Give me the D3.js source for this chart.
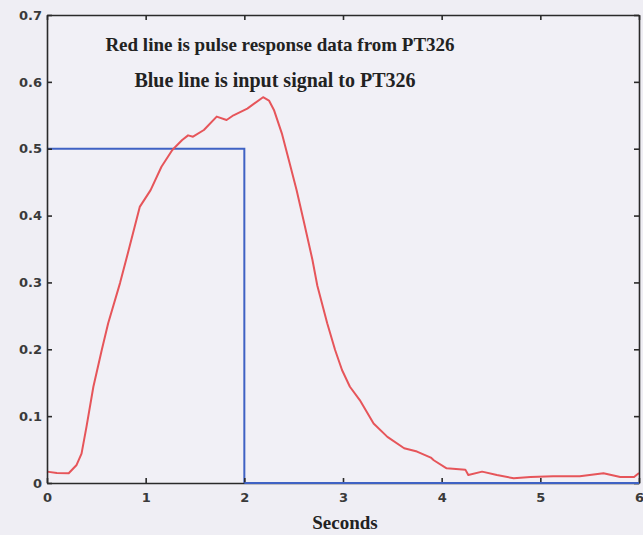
<!DOCTYPE html>
<html>
<head>
<meta charset="utf-8">
<script src="https://cdn.jsdelivr.net/npm/d3@7"></script>
<style>
  html, body { margin: 0; padding: 0; background: #efeef4; }
  svg { display: block; }
</style>
</head>
<body>
<svg id="chart" width="643" height="535"></svg>
<script>
// ---- data ----
const redT = [0, 0.1, 0.22, 0.30, 0.35, 0.40, 0.47, 0.555, 0.62, 0.74, 0.82, 0.94, 1.05, 1.16, 1.27, 1.37, 1.43, 1.48, 1.59, 1.72, 1.82, 1.89, 2.03, 2.19, 2.25, 2.30, 2.38, 2.46, 2.53, 2.60, 2.69, 2.74, 2.84, 2.92, 2.99, 3.07, 3.17, 3.31, 3.45, 3.62, 3.75, 3.89, 3.92, 4.05, 4.24, 4.27, 4.41, 4.56, 4.73, 4.90, 5.13, 5.40, 5.64, 5.81, 5.95, 6.0];
const redV = [0.017, 0.015, 0.0145, 0.027, 0.044, 0.084, 0.144, 0.199, 0.239, 0.299, 0.344, 0.413, 0.438, 0.473, 0.498, 0.513, 0.520, 0.518, 0.528, 0.548, 0.543, 0.550, 0.560, 0.577, 0.572, 0.558, 0.523, 0.478, 0.438, 0.393, 0.334, 0.295, 0.239, 0.199, 0.169, 0.144, 0.124, 0.089, 0.069, 0.052, 0.047, 0.038, 0.034, 0.022, 0.020, 0.012, 0.017, 0.012, 0.007, 0.009, 0.010, 0.010, 0.0145, 0.009, 0.009, 0.015];
const blueT = [0, 2, 2, 6];
const blueV = [0.5, 0.5, 0, 0];
const xTicks = [0, 1, 2, 3, 4, 5, 6];
const yTicks = [0, 0.1, 0.2, 0.3, 0.4, 0.5, 0.6, 0.7];
const yTickLabels = ["0", "0.1", "0.2", "0.3", "0.4", "0.5", "0.6", "0.7"];
const annotations = ["Red line is pulse response data from PT326", "Blue line is input signal to PT326"];
const xTitle = "Seconds";

// ---- layout ----
const L = 47, R = 639, T = 15, B = 483;
const svg = d3.select("#chart");
const x = d3.scaleLinear().domain([0, 6]).range([L, R]);
const y = d3.scaleLinear().domain([0, 0.7]).range([B, T]);

svg.append("rect").attr("x", 0).attr("y", 0).attr("width", 643).attr("height", 535).attr("fill", "#efeef4");
svg.append("rect").attr("x", L).attr("y", T).attr("width", R - L).attr("height", B - T).attr("fill", "#f1f0f6");

const line = d3.line().x(d => x(d[0])).y(d => y(d[1]));

// blue input signal
svg.append("path")
  .datum(blueT.map((t, i) => [t, blueV[i]]))
  .attr("d", line).attr("fill", "none")
  .attr("stroke", "#3f62c4").attr("stroke-width", 2);

// red response
svg.append("path")
  .datum(redT.map((t, i) => [t, redV[i]]))
  .attr("d", line).attr("fill", "none")
  .attr("stroke", "#e6555a").attr("stroke-width", 2).attr("stroke-linejoin", "round");

// axes (MATLAB-style: ticks inward, box)
const tickLen = 5;
const axFont = "'DejaVu Sans', sans-serif";
const gB = svg.append("g").attr("transform", `translate(0,${B})`)
  .call(d3.axisBottom(x).tickValues(xTicks).tickFormat(d3.format("d")).tickSizeInner(-tickLen).tickSizeOuter(0).tickPadding(10));
const gT = svg.append("g").attr("transform", `translate(0,${T})`)
  .call(d3.axisTop(x).tickValues(xTicks).tickFormat("").tickSizeInner(-tickLen).tickSizeOuter(0));
const gL = svg.append("g").attr("transform", `translate(${L},0)`)
  .call(d3.axisLeft(y).tickValues(yTicks).tickFormat((d, i) => yTickLabels[i]).tickSizeInner(-tickLen).tickSizeOuter(0).tickPadding(5));
const gR = svg.append("g").attr("transform", `translate(${R},0)`)
  .call(d3.axisRight(y).tickValues(yTicks).tickFormat("").tickSizeInner(-tickLen).tickSizeOuter(0));

[gB, gT, gL, gR].forEach(g => {
  g.select(".domain").attr("stroke", "#2a2a2a").attr("stroke-width", 1.6);
  g.selectAll(".tick line").attr("stroke", "#2a2a2a").attr("stroke-width", 1.6);
  g.selectAll("text").attr("font-family", axFont).attr("font-size", 13)
    .attr("font-weight", "bold").attr("fill", "#3a3a3a");
});
// blue overlays the bottom axis right of the pulse
svg.append("path")
  .datum([[2, 0], [6, 0]])
  .attr("d", line).attr("fill", "none")
  .attr("stroke", "#3f62c4").attr("stroke-width", 2);

// annotations
const serif = "'Liberation Serif', 'Times New Roman', serif";
svg.append("text").attr("x", 280).attr("y", 51).attr("text-anchor", "middle")
  .attr("font-family", serif).attr("font-size", 19).attr("font-weight", "bold")
  .attr("fill", "#222").text(annotations[0]);
svg.append("text").attr("x", 275).attr("y", 87).attr("text-anchor", "middle")
  .attr("font-family", serif).attr("font-size", 20).attr("font-weight", "bold")
  .attr("fill", "#222").text(annotations[1]);

svg.append("text").attr("x", 345).attr("y", 529).attr("text-anchor", "middle")
  .attr("font-family", serif).attr("font-size", 19).attr("font-weight", "bold")
  .attr("fill", "#222").text(xTitle);
</script>
</body>
</html>
